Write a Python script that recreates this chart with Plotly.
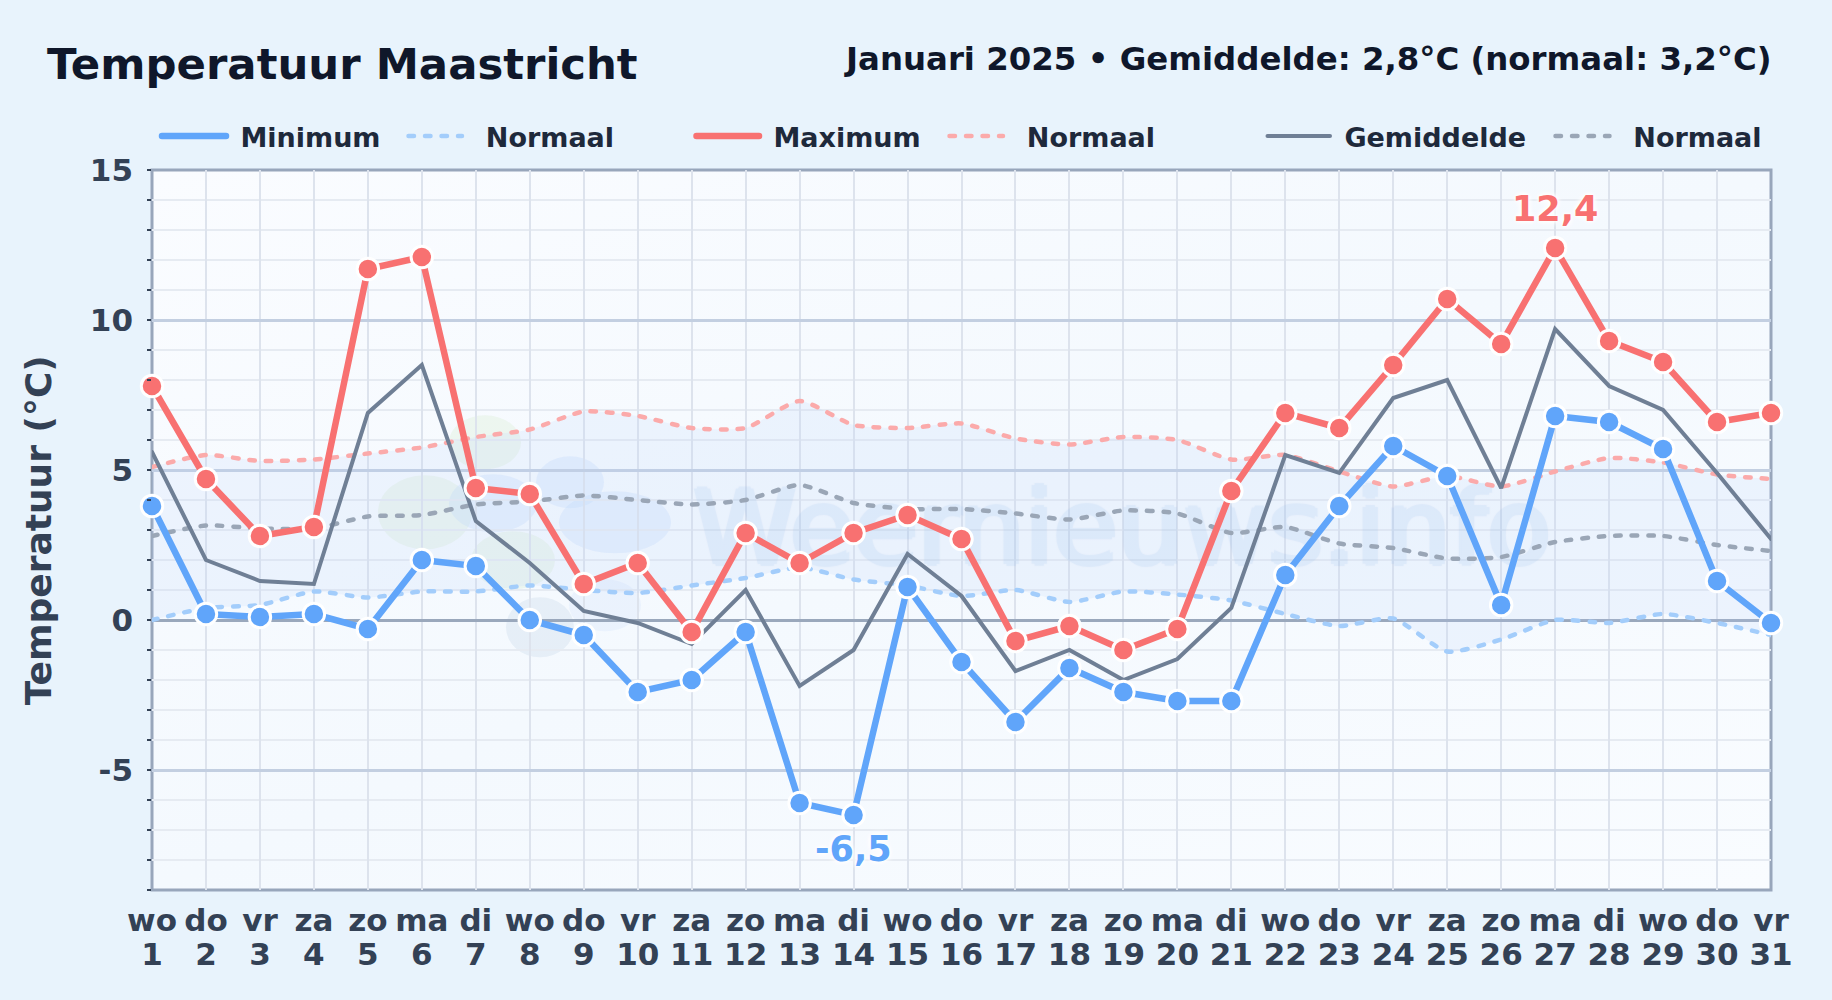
import urllib.parse
import plotly.graph_objects as go

# ---- data -------------------------------------------------------------
days = list(range(1, 32))
weekdays = ["wo","do","vr","za","zo","ma","di","wo","do","vr","za","zo","ma","di","wo","do",
            "vr","za","zo","ma","di","wo","do","vr","za","zo","ma","di","wo","do","vr"]
t_min = [3.8,0.2,0.1,0.2,-0.3,2.0,1.8,0.0,-0.5,-2.4,-2.0,-0.4,-6.1,-6.5,1.1,-1.4,-3.4,-1.6,-2.4,-2.7,-2.7,1.5,3.8,5.8,4.8,0.5,6.8,6.6,5.7,1.3,-0.1]
t_max = [7.8,4.7,2.8,3.1,11.7,12.1,4.4,4.2,1.2,1.9,-0.4,2.9,1.9,2.9,3.5,2.7,-0.7,-0.2,-1.0,-0.3,4.3,6.9,6.4,8.5,10.7,9.2,12.4,9.3,8.6,6.6,6.9]
t_avg = [5.6,2.0,1.3,1.2,6.9,8.5,3.3,1.9,0.3,-0.1,-0.8,1.0,-2.2,-1.0,2.2,0.8,-1.7,-1.0,-2.0,-1.3,0.4,5.5,4.9,7.4,8.0,4.4,9.7,7.8,7.0,4.9,2.7]
norm_max = [5.1,5.5,5.3,5.35,5.55,5.75,6.1,6.35,6.95,6.8,6.4,6.4,7.3,6.5,6.4,6.55,6.05,5.85,6.1,6.0,5.35,5.5,4.95,4.45,4.8,4.45,4.95,5.4,5.25,4.85,4.7]
norm_avg = [2.8,3.15,3.05,3.05,3.45,3.5,3.85,3.95,4.15,4.0,3.85,4.0,4.5,3.9,3.7,3.7,3.55,3.35,3.65,3.55,2.9,3.1,2.55,2.4,2.05,2.1,2.6,2.8,2.8,2.5,2.3]
norm_min = [0.0,0.4,0.5,0.95,0.75,0.95,0.95,1.15,1.0,0.9,1.15,1.4,1.75,1.35,1.15,0.8,1.0,0.6,0.95,0.85,0.65,0.2,-0.2,0.05,-1.05,-0.65,0.0,-0.1,0.2,-0.1,-0.5]
y_ticks = [-5, 0, 5, 10, 15]
y_labels = ["-5", "0", "5", "10", "15"]
title_text = "Temperatuur Maastricht"
subtitle_text = "Januari 2025 • Gemiddelde: 2,8°C (normaal: 3,2°C)"
y_title = "Temperatuur (°C)"
watermark = "Weernieuws.info"

# ---- layout constants ---------------------------------------------------
W, H = 1832, 1000
L, R, T, B = 152, 1771, 169.5, 890
FONT = "DejaVu Sans"
BLUE, RED, GREY = "#60a5fa", "#f87171", "#6f7f95"
BLUE_N, RED_N, GREY_N = "#a3cdfb", "#fbaaaa", "#9aa6b6"
INK, INK2, TICK = "#0f172a", "#1e293b", "#334155"

def fx(px): return (px - L) / (R - L)
def fy(py): return (B - py) / (B - T)
def dx(px): return 1 + (px - L) / (R - L) * 30
def dy(py): return 15 - (py - T) / (B - T) * 24

# backdrop: plot-area tint and the soft logo blobs of the watermark
blobs = [
    (485,442,36,27,"#dcefd6",.36),(425,512,47,37,"#dcefd6",.36),(513,560,42,29,"#dcefd6",.36),
    (493,503,44,29,"#bcd8fb",.28),(570,482,34,26,"#bcd8fb",.28),(615,522,56,31,"#bcd8fb",.28),
    (605,605,36,26,"#cfe3fb",.28),(540,627,34,30,"#a9c1dc",.20),
]
svg = (f'<svg xmlns="http://www.w3.org/2000/svg" width="{W}" height="{H}" viewBox="0 0 {W} {H}">'
       '<defs><linearGradient id="g" x1="0" y1="0" x2="1" y2="1">'
       '<stop offset="0" stop-color="#fafcff"/><stop offset=".5" stop-color="#f4f9fe"/>'
       '<stop offset="1" stop-color="#f9fcff"/></linearGradient></defs>'
       f'<rect x="{L}" y="{T}" width="{R-L}" height="{B-T}" fill="url(#g)"/>'
       + "".join(f'<ellipse cx="{a}" cy="{b}" rx="{c}" ry="{d}" fill="{e}" opacity="{f}"/>'
                 for a, b, c, d, e, f in blobs) + '</svg>')
bg_uri = "data:image/svg+xml," + urllib.parse.quote(svg)

fig = go.Figure()
skip = dict(hoverinfo="skip", showlegend=False, cliponaxis=False)

# watermark text, underneath everything
wm_col = "#6fa8e6"
fig.add_trace(go.Scatter(x=[dx(1122)], y=[dy(538)], mode="text", text=[watermark], opacity=0.13,
    textposition="middle center",
    textfont=dict(family=FONT, size=104, color=wm_col,
                  shadow=f"3px 0 1px {wm_col},-3px 0 1px {wm_col},0 2px 1px {wm_col},0 -2px 1px {wm_col}"), **skip))

# normal band
fig.add_trace(go.Scatter(x=days, y=norm_min, mode="lines",
    line=dict(width=0, shape="spline", smoothing=.6), **skip))
fig.add_trace(go.Scatter(x=days, y=norm_max, mode="lines", fill="tonexty",
    fillcolor="rgba(188,208,250,0.18)",
    line=dict(width=0, shape="spline", smoothing=.6), **skip))

# normal lines
dash = "5.5px,11px"
for arr, col in ((norm_min, BLUE_N), (norm_max, RED_N), (norm_avg, GREY_N)):
    fig.add_trace(go.Scatter(x=days, y=arr, mode="lines",
        line=dict(color=col, width=4.5, dash=dash, shape="spline", smoothing=.6), **skip))

# mean, min and max
fig.add_trace(go.Scatter(x=days, y=t_avg, mode="lines", line=dict(color=GREY, width=4), **skip))
for arr, col in ((t_min, BLUE), (t_max, RED)):
    fig.add_trace(go.Scatter(x=days, y=arr, mode="lines+markers", line=dict(color=col, width=6.5),
        marker=dict(size=21.5, color=col, line=dict(color="#ffffff", width=3)), **skip))

# legend entries: (name, colour, width, dash, key start px, key width px, padding)
legend_rows = [
    ("Minimum", BLUE, 6.5, None, 162, 64, 1),
    ("Normaal", BLUE_N, 4.5, dash, 408.5, 53.5, 2),
    ("Maximum", RED, 6.5, None, 696.5, 62.5, 1),
    ("Normaal", RED_N, 4.5, dash, 949.5, 53.5, 2),
    ("Gemiddelde", GREY, 4, None, 1267.5, 62.5, 1),
    ("Normaal", GREY_N, 4.5, dash, 1555.5, 54, 2),
]
legends = {}
for i, (name, col, wid, d, x0, kw, pad) in enumerate(legend_rows):
    key = "legend" if i == 0 else f"legend{i+1}"
    fig.add_trace(go.Scatter(x=[None], y=[None], mode="lines", name="\u00a0" * pad + name,
        legend=key, showlegend=True, line=dict(color=col, width=wid, dash=d)))
    legends[key] = dict(x=fx(x0 - 5), y=fy(136), xanchor="left", yanchor="middle",
        orientation="h", itemwidth=kw, bgcolor="rgba(0,0,0,0)", borderwidth=0,
        font=dict(family=FONT, size=27, color=INK2, weight="bold"), itemclick=False, itemdoubleclick=False)

# extreme labels
halo = "0 0 3px #fff, 0 0 5px #fff, 0 0 7px #fff, 0 0 7px #fff"
hi, lo = t_max.index(max(t_max)), t_min.index(min(t_min))
def extreme(day, val, col, shift):
    return dict(x=day, y=val, xref="x", yref="y", text=f"{val:.1f}".replace(".", ","),
        showarrow=False, yshift=shift, xanchor="center", yanchor="middle",
        font=dict(family=FONT, size=35, color=col, weight="bold", shadow=halo))

annotations = [
    extreme(days[hi], t_max[hi], RED, 39),
    extreme(days[lo], t_min[lo], BLUE, -34),
    dict(x=fx(45), y=fy(63), xref="paper", yref="paper", text=title_text, showarrow=False,
         xanchor="left", yanchor="middle", font=dict(family=FONT, size=43.4, color=INK, weight="bold")),
    dict(x=fx(1773.5), y=fy(58), xref="paper", yref="paper", text=subtitle_text, showarrow=False,
         xanchor="right", yanchor="middle", font=dict(family=FONT, size=32.4, color=INK, weight="bold")),
    dict(x=fx(38), y=fy(530), xref="paper", yref="paper", text=y_title, showarrow=False, textangle=-90,
         xanchor="center", yanchor="middle", font=dict(family=FONT, size=36, color=TICK, weight="bold")),
]

frame = [dict(type="rect", xref="paper", yref="paper", x0=0, x1=1, y0=0, y1=1, layer="below",
              line=dict(color="#98a6bb", width=3), fillcolor="rgba(0,0,0,0)")]

fig.update_layout(
    width=W, height=H, showlegend=True,
    margin=dict(l=L, r=W - R, t=T, b=H - B, pad=0, autoexpand=False),
    paper_bgcolor="#e8f3fc", plot_bgcolor="rgba(0,0,0,0)",
    font=dict(family=FONT),
    images=[dict(source=bg_uri, xref="paper", yref="paper", x=fx(0), y=fy(0),
                 sizex=W / (R - L), sizey=H / (B - T), xanchor="left", yanchor="top",
                 sizing="stretch", layer="below")],
    annotations=annotations, shapes=frame,
    xaxis=dict(range=[1, 31], tickmode="array", tickvals=days,
        ticktext=[f'<span style="font-size:31px">{w}<br>{d}</span>' for w, d in zip(weekdays, days)],
        tickfont=dict(family=FONT, size=26, color=TICK, weight="bold"), tickangle=0,
        ticks="", ticklabelstandoff=14, showgrid=True, gridcolor="#dde3ed", gridwidth=2,
        showline=False, zeroline=False),
    yaxis=dict(range=[-9, 15], tickmode="array", tickvals=y_ticks, ticktext=y_labels,
        tickfont=dict(family=FONT, size=31, color=TICK, weight="bold"),
        ticks="", ticklen=0, ticklabelstandoff=18, showgrid=True, gridcolor="#c3cfe1", gridwidth=3,
        minor=dict(dtick=1, tick0=0, ticks="outside", ticklen=4, tickwidth=1.5, tickcolor="#334155",
                   showgrid=True, gridcolor="#e6ebf2", gridwidth=2),
        showline=False, zeroline=True, zerolinecolor="#9aa8bc", zerolinewidth=3),
    **legends,
)

css = ("var s=document.createElement('style');s.textContent='.js-line{stroke-linecap:round}';"
       "document.head.appendChild(s);document.body.style.margin='0';"
       "document.documentElement.style.background='#e8f3fc';")
fig.write_html("out.html", post_script=css, config=dict(displayModeBar=False))
